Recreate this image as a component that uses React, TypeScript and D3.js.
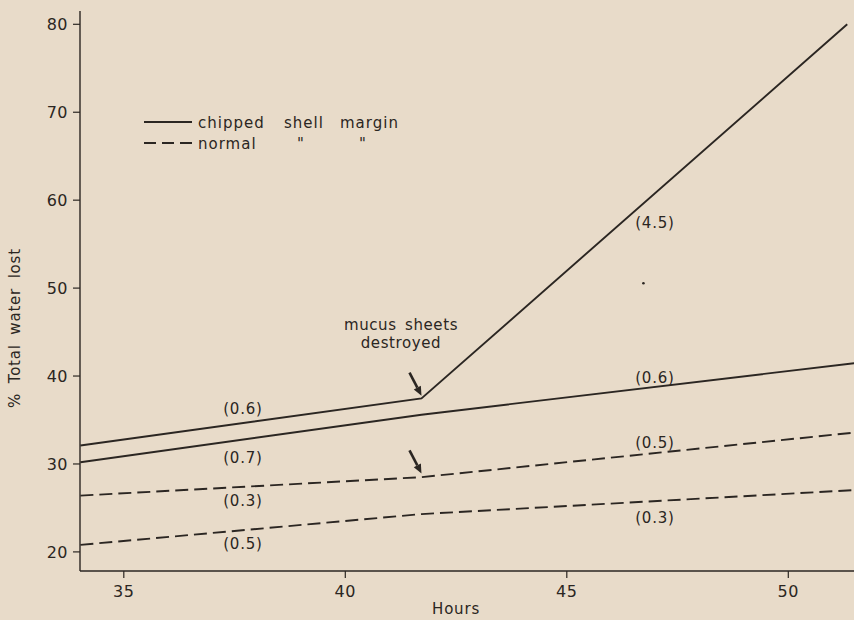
import React, { useEffect, useRef } from 'react';
import * as d3 from 'd3';

const W = 854;
const H = 620;

// axis ticks
const hourTicks = [35, 40, 45, 50];
const lossTicks = [20, 30, 40, 50, 60, 70, 80];

// [hours, % total water lost]
const chippedUpper = [[34.02, 32.1], [41.72, 37.45], [51.33, 80]];
const chippedLower = [[34.02, 30.2], [41.72, 35.6], [51.55, 41.5]];
const normalUpper = [[34.02, 26.4], [41.72, 28.5], [51.55, 33.6]];
const normalLower = [[34.02, 20.8], [41.72, 24.3], [51.55, 27.05]];

// slopes written next to the lines: text, hours, value
const rateLabels = [
  ['(0.6)', 37.69, 36.3],
  ['(0.7)', 37.69, 30.72],
  ['(0.3)', 37.69, 25.82],
  ['(0.5)', 37.69, 20.93],
  ['(4.5)', 46.99, 57.4],
  ['(0.6)', 46.99, 39.83],
  ['(0.5)', 46.99, 32.43],
  ['(0.3)', 46.99, 23.9],
];

// arrow tips at the break point
const arrowTips = [[41.72, 37.77], [41.72, 28.93]];

const legendNames = ['chipped shell margin', 'normal " "'];

const font = '"DejaVu Sans", sans-serif';
const ink = '#2b2622';

const App = () => {
  const ref = useRef(null);

  useEffect(() => {
    document.body.style.margin = '0';
    const svg = d3.select(ref.current);
    svg.selectAll('*').remove();

    const x = d3.scaleLinear([35, 50], [123.8, 788.3]);
    const y = d3.scaleLinear([20, 80], [551.9, 24.3]);
    const x0 = 80;
    const yBottom = 571;

    svg.append('rect').attr('width', W).attr('height', H).attr('fill', '#e8dbc9');

    // axes
    svg.append('line').attr('x1', x0).attr('x2', x0).attr('y1', 11).attr('y2', yBottom)
      .attr('stroke', ink).attr('stroke-width', 1.4);
    svg.append('line').attr('x1', x0).attr('x2', W).attr('y1', yBottom).attr('y2', yBottom)
      .attr('stroke', ink).attr('stroke-width', 1.4);

    const yt = svg.append('g');
    lossTicks.forEach(t => {
      yt.append('line').attr('x1', x0 - 7).attr('x2', x0).attr('y1', y(t)).attr('y2', y(t))
        .attr('stroke', ink).attr('stroke-width', 1.2);
      yt.append('text').attr('x', x0 - 12).attr('y', y(t)).attr('dy', '0.36em')
        .attr('text-anchor', 'end').style('font', `16px ${font}`).attr('fill', ink)
        .attr('letter-spacing', 0.5).text(t);
    });

    const xt = svg.append('g');
    hourTicks.forEach(t => {
      xt.append('line').attr('x1', x(t)).attr('x2', x(t)).attr('y1', yBottom).attr('y2', yBottom + 7)
        .attr('stroke', ink).attr('stroke-width', 1.2);
      xt.append('text').attr('x', x(t)).attr('y', 597)
        .attr('text-anchor', 'middle').style('font', `16px ${font}`).attr('fill', ink)
        .attr('letter-spacing', 0.5).text(t);
    });

    svg.append('text').attr('x', x(42.5)).attr('y', 614).attr('text-anchor', 'middle')
      .style('font', `15px ${font}`).attr('fill', ink).attr('letter-spacing', 0.8).text('Hours');

    svg.append('text').attr('transform', `translate(20,328) rotate(-90)`)
      .attr('text-anchor', 'middle').style('font', `15px ${font}`).attr('fill', ink)
      .attr('letter-spacing', 0.8).attr('word-spacing', 4).text('% Total water lost');

    // lines
    const line = d3.line().x(d => x(d[0])).y(d => y(d[1]));
    const lines = svg.append('g').attr('fill', 'none').attr('stroke', ink).attr('stroke-width', 1.9);
    [chippedUpper, chippedLower].forEach(s => lines.append('path').attr('d', line(s)));
    [normalUpper, normalLower].forEach(s => lines.append('path').attr('d', line(s))
      .attr('stroke-dasharray', '13 6'));

    // slope labels
    rateLabels.forEach(([t, h, v]) => {
      svg.append('text').attr('x', x(h)).attr('y', y(v)).attr('dy', '0.36em')
        .attr('text-anchor', 'middle').style('font', `15px ${font}`).attr('fill', ink)
        .attr('letter-spacing', 0.8).text(t);
    });

    // stray dot
    svg.append('circle').attr('cx', x(46.73)).attr('cy', y(50.55)).attr('r', 1.3).attr('fill', ink);

    // annotation
    const note = svg.append('text').attr('text-anchor', 'middle').style('font', `15px ${font}`)
      .attr('fill', ink).attr('letter-spacing', 0.6);
    note.append('tspan').attr('x', 401).attr('y', 330).attr('word-spacing', 3).text('mucus sheets');
    note.append('tspan').attr('x', 401).attr('y', 348).text('destroyed');

    arrowTips.forEach(([h, v]) => {
      const tx = x(h), ty = y(v);
      const sx = tx - 12, sy = ty - 23;
      const ang = Math.atan2(ty - sy, tx - sx);
      const hl = 9, hw = 4;
      const bx = tx - hl * Math.cos(ang), by = ty - hl * Math.sin(ang);
      svg.append('line').attr('x1', sx).attr('y1', sy).attr('x2', bx).attr('y2', by)
        .attr('stroke', ink).attr('stroke-width', 2.6);
      const px = -Math.sin(ang) * hw, py = Math.cos(ang) * hw;
      svg.append('path').attr('d', `M${tx},${ty}L${bx + px},${by + py}L${bx - px},${by - py}Z`)
        .attr('fill', ink);
    });

    // legend
    const lg = svg.append('g');
    lg.append('line').attr('x1', 144).attr('x2', 192).attr('y1', 122).attr('y2', 122)
      .attr('stroke', ink).attr('stroke-width', 1.8);
    lg.append('line').attr('x1', 144).attr('x2', 192).attr('y1', 143).attr('y2', 143)
      .attr('stroke', ink).attr('stroke-width', 1.8).attr('stroke-dasharray', '12 6');
    const words1 = legendNames[0].split(' ');
    const pos1 = [198, 284, 340];
    words1.forEach((w, i) => lg.append('text').attr('x', pos1[i]).attr('y', 128)
      .style('font', `15px ${font}`).attr('fill', ink).attr('letter-spacing', 1).text(w));
    const words2 = legendNames[1].split(' ');
    const pos2 = [198, 301, 363];
    words2.forEach((w, i) => lg.append('text').attr('x', pos2[i]).attr('y', 149)
      .attr('text-anchor', i === 0 ? 'start' : 'middle')
      .style('font', `15px ${font}`).attr('fill', ink).attr('letter-spacing', 1).text(w));
  }, []);

  return <svg ref={ref} width={W} height={H} style={{ display: 'block' }} />;
};

export default App;
